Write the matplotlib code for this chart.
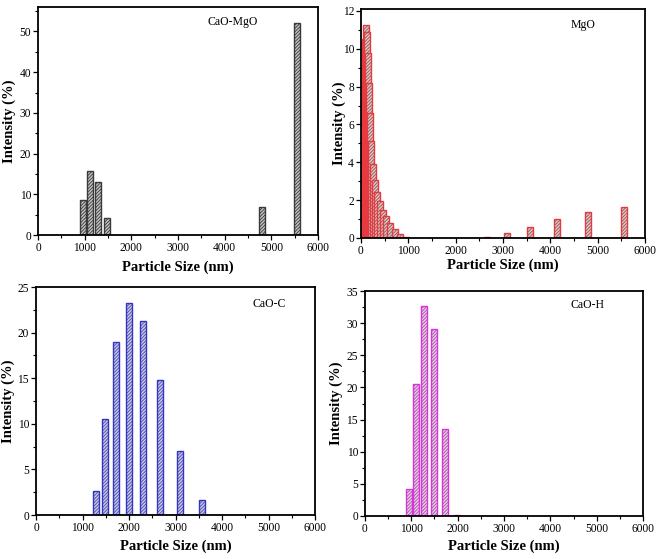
import matplotlib
matplotlib.use("Agg")
import matplotlib.pyplot as plt
from matplotlib.ticker import MultipleLocator

plt.rcParams['font.family'] = ['Liberation Serif', 'DejaVu Serif']
plt.rcParams['hatch.linewidth'] = 0.7

# particle size bins (nm) and intensity (%)
cao_mgo_size = [955.4, 1106, 1281, 1484, 4801, 5560]
cao_mgo_int = [8.5, 15.8, 12.9, 4.1, 6.8, 52.1]

mgo_size = [28.21, 32.67, 37.84, 43.82, 50.75, 58.77, 68.06, 78.82, 91.28,
            105.7, 122.4, 141.8, 164.2, 190.1, 220.2, 255.0, 295.3, 342.0,
            396.1, 458.7, 531.2, 615.1, 712.4, 825.0, 955.4,
            2669, 3091, 3580, 4145, 4801, 5560]
mgo_int = [0.2, 0.6, 1.3, 2.4, 3.8, 5.4, 7.2, 9.0, 10.5,
           11.25, 10.9, 9.75, 8.2, 6.6, 5.1, 3.9, 3.05, 2.45,
           1.95, 1.5, 1.15, 0.8, 0.47, 0.22, 0.07,
           0.07, 0.28, 0.59, 0.98, 1.38, 1.64]

cao_c_size = [1281, 1484, 1718, 1990, 2305, 2669, 3091, 3580]
cao_c_int = [2.65, 10.55, 19.0, 23.25, 21.3, 14.75, 7.0, 1.65]

cao_h_size = [955.4, 1106, 1281, 1484, 1718, 1990]
cao_h_int = [4.15, 20.5, 32.7, 29.1, 13.5, 0.2]

panels = [
    # name, sizes, values, edge, hatch colour, face, ymax, ymajor, rect, text pos, ylabel x, xlabel y
    ("CaO-MgO", cao_mgo_size, cao_mgo_int, "#3a3a3a", "#444444", "#c8c8c8", 56, 10,
     [38, 7, 318, 235], (0.696, 0.933), -0.104, -0.14),
    ("MgO", mgo_size, mgo_int, "#e8393f", "#8a6666", "#eec4c4", 12.1, 2,
     [361, 9, 645, 238], (0.782, 0.928), -0.078, -0.118),
    ("CaO-C", cao_c_size, cao_c_int, "#3434c4", "#5a5aa8", "#c8c8ee", 25, 5,
     [36, 287, 315, 515], (0.836, 0.927), -0.098, -0.138),
    ("CaO-H", cao_h_size, cao_h_int, "#e02ee0", "#9a6a9a", "#f2c8f2", 35, 5,
     [365, 291, 643, 516], (0.799, 0.936), -0.104, -0.136),
]

W, H = 661, 559
fig = plt.figure(figsize=(W / 100, H / 100), dpi=100)

bar_w = 128

for name, sizes, vals, edge, hcol, face, ymax, ymaj, r, tpos, ylx, xly in panels:
    x0, y0, x1, y1 = r
    ax = fig.add_axes([x0 / W, 1 - y1 / H, (x1 - x0) / W, (y1 - y0) / H])
    for s, v in zip(sizes, vals):
        # hatched fill first, then the coloured outline on top
        ax.bar(s, v, width=bar_w, color=face, edgecolor=hcol, hatch="//////////",
               linewidth=0)
        ax.bar(s, v, width=bar_w, fill=False, edgecolor=edge, linewidth=1.0)
    if name == "CaO-C":
        ax.axhline(0, color=edge, lw=1.0)
    if name == "CaO-H":
        ax.axhline(0, xmin=2000 / 6000, xmax=1, color="#6a6ad8", lw=0.8)

    ax.set_xlim(0, 6000)
    ax.set_ylim(0, ymax)
    ax.xaxis.set_major_locator(MultipleLocator(1000))
    ax.xaxis.set_minor_locator(MultipleLocator(500))
    ax.yaxis.set_major_locator(MultipleLocator(ymaj))
    ax.yaxis.set_minor_locator(MultipleLocator(ymaj / 2))
    ax.tick_params(which="both", direction="out", labelsize=8.3, pad=1.5)
    ax.tick_params(which="major", length=3.5, width=0.9)
    ax.tick_params(which="minor", length=2, width=0.8)
    for sp in ax.spines.values():
        sp.set_linewidth(1.3)

    ax.text(tpos[0], tpos[1], name, transform=ax.transAxes, ha="center",
            va="center", fontsize=8.5)
    ax.set_xlabel("Particle Size (nm)", fontsize=10.5, fontweight="bold")
    ax.set_ylabel("Intensity (%)", fontsize=10.5, fontweight="bold")
    ax.xaxis.label.set_va("center")
    ax.yaxis.label.set_va("center")
    ax.xaxis.set_label_coords(0.5, xly)
    ax.yaxis.set_label_coords(ylx, 0.5)

fig.savefig("out.png", dpi=100)
